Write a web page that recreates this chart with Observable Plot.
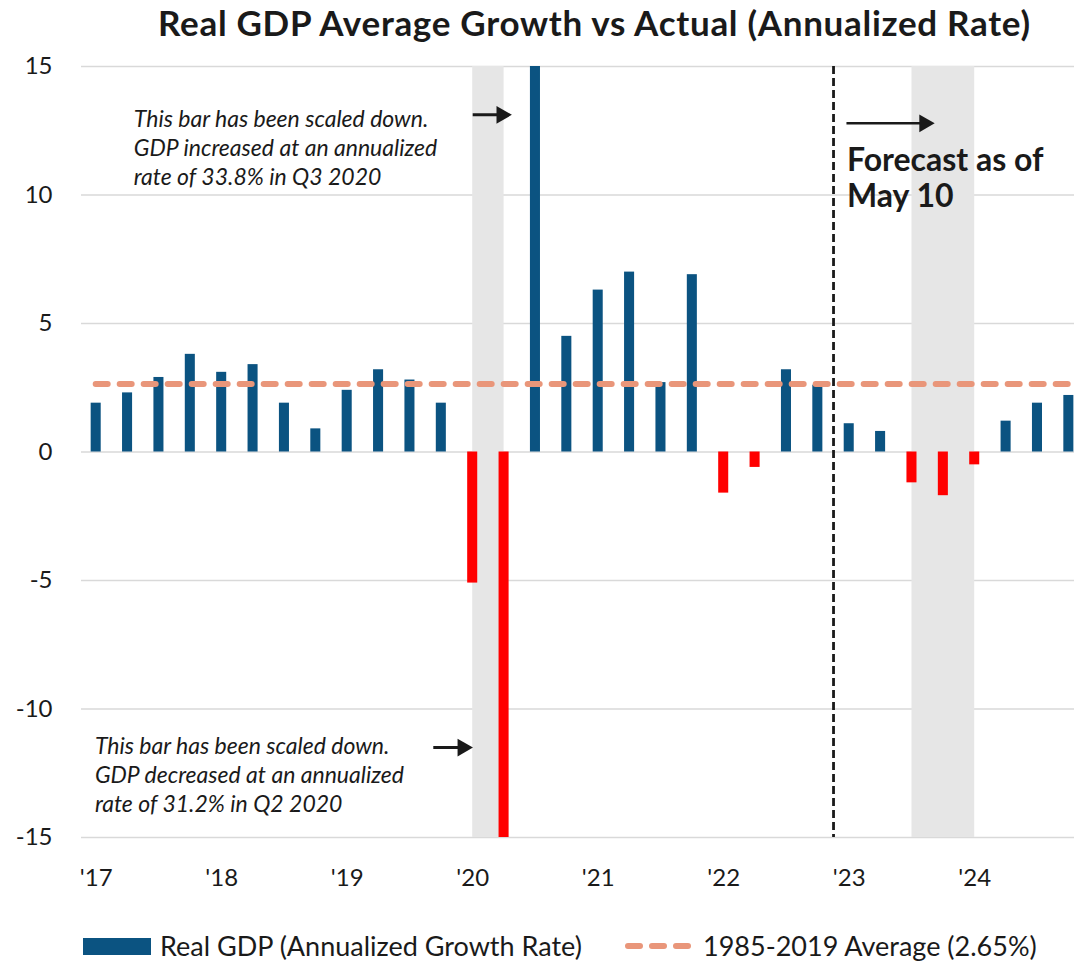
<!DOCTYPE html>
<html><head><meta charset="utf-8">
<script src="https://cdn.jsdelivr.net/npm/d3@7"></script>
<script src="https://cdn.jsdelivr.net/npm/@observablehq/plot@0.6"></script>
<style>
body{margin:0;background:#fff;}
#wrap{position:relative;width:1074px;height:961px;overflow:hidden;font-family:Lato,"Open Sans",sans-serif;color:#1a1a1a;background:#fff;}
#title{position:absolute;left:158px;top:1px;font-weight:700;font-size:35px;letter-spacing:0.7px;line-height:1.2;white-space:nowrap;}
#chart{position:absolute;left:0;top:50px;}
.leg{position:absolute;top:930px;display:flex;align-items:center;font-size:27px;line-height:1.2;white-space:nowrap;}
</style></head>
<body>
<div id="wrap">
  <div id="title">Real GDP Average Growth vs Actual (Annualized Rate)</div>
  <div id="chart"></div>
  <div class="leg" style="left:83px"><span id="sw1" style="display:inline-block;width:68px;height:17px;margin-right:9px"></span><span id="lt1"></span></div>
  <div class="leg" style="left:622px"><svg id="sw2" width="72" height="20" style="margin-right:9px"></svg><span id="lt2"></span></div>
</div>
<script>
// ---- data ----
const periods = [
  "2017 Q1","2017 Q2","2017 Q3","2017 Q4",
  "2018 Q1","2018 Q2","2018 Q3","2018 Q4",
  "2019 Q1","2019 Q2","2019 Q3","2019 Q4",
  "2020 Q1","2020 Q2","2020 Q3","2020 Q4",
  "2021 Q1","2021 Q2","2021 Q3","2021 Q4",
  "2022 Q1","2022 Q2","2022 Q3","2022 Q4",
  "2023 Q1","2023 Q2","2023 Q3","2023 Q4",
  "2024 Q1","2024 Q2","2024 Q3","2024 Q4"
];
const growth = [
  1.9, 2.3, 2.9, 3.8,
  3.1, 3.4, 1.9, 0.9,
  2.4, 3.2, 2.8, 1.9,
  -5.1, -31.2, 33.8, 4.5,
  6.3, 7.0, 2.7, 6.9,
  -1.6, -0.6, 3.2, 2.6,
  1.1, 0.8, -1.2, -1.7,
  -0.5, 1.2, 1.9, 2.2
];
const shadeStart = ["2020 Q1", "2023 Q3"];
const shadeEnd   = ["2020 Q2", "2024 Q1"];
const forecastStart = "2023 Q1";
const averageGrowth = 2.65;
const yTicks = [-15, -10, -5, 0, 5, 10, 15];
const xTickYears = [2017, 2018, 2019, 2020, 2021, 2022, 2023, 2024];
const xTickLabels = ["'17", "'18", "'19", "'20", "'21", "'22", "'23", "'24"];
const seriesNames = ["Real GDP (Annualized Growth Rate)", "1985-2019 Average (2.65%)"];
const noteTexts = [
  "This bar has been scaled down.\nGDP increased at an annualized\nrate of 33.8% in Q3 2020",
  "This bar has been scaled down.\nGDP decreased at an annualized\nrate of 31.2% in Q2 2020"
];
const forecastText = "Forecast as of\nMay 10";
// annotation anchors (data units: year, growth %)
const noteX = [2017.30, 2016.99];
const noteY = [13.45, -10.95];
const arrowX1 = [2020.0, 2019.686, 2022.978];
const arrowX2 = [2020.31, 2020.0, 2023.679];
const arrowY  = [13.12, -11.5, 12.79];
const forecastNoteX = 2022.982;
const forecastNoteY = 11.94;

// ---- build ----
const blue = "#0b5381", red = "#ff0000", salmon = "#e9967a", band = "#e6e6e6", grid = "#d9d9d9", ink = "#1a1a1a";
const toT = s => +s.slice(0, 4) + (+s.slice(-1) - 1) / 4;
const bars = periods.map((p, i) => ({t: toT(p), v: growth[i]}));
const shades = shadeStart.map((s, i) => ({x1: toT(s), x2: toT(shadeEnd[i])}));
const forecastT = toT(forecastStart) - 0.125;
const notes = noteTexts.map((text, i) => ({text, x: noteX[i], y: noteY[i]}));
const arrows = arrowX1.map((x1, i) => ({x1, x2: arrowX2[i], y: arrowY[i], w: i === 2 ? 2.5 : 3}));
const tickLabel = new Map(xTickYears.map((y, i) => [y, xTickLabels[i]]));

const chart = Plot.plot({
  width: 1074,
  height: 851,
  marginTop: 16,
  marginBottom: 64,
  marginLeft: 81,
  marginRight: 0,
  style: {fontFamily: "Lato, 'Open Sans', sans-serif", fontSize: "24px", color: ink, background: "white"},
  x: {type: "linear", domain: [2016.883, 2024.795], axis: null},
  y: {domain: [-15, 15], axis: null},
  marks: [
    Plot.gridY(yTicks, {stroke: grid, strokeOpacity: 1, strokeWidth: 1.6}),
    Plot.rect(shades, {x1: "x1", x2: "x2", fill: band}),
    Plot.rectY(bars, {x1: d => d.t - 0.04, x2: d => d.t + 0.04, y: "v", fill: d => d.v < 0 ? red : blue, clip: true}),
    Plot.ruleY([averageGrowth], {x1: toT(periods[0]), x2: toT(periods[periods.length - 1]), stroke: salmon, strokeWidth: 6, strokeDasharray: "12,12", strokeLinecap: "round"}),
    Plot.ruleX([forecastT], {stroke: ink, strokeWidth: 2.8, strokeDasharray: "8,4"}),
    Plot.link(arrows, {x1: "x1", x2: d => d.x2 - 0.06, y1: "y", y2: "y", stroke: ink, strokeWidth: "w"}),
    Plot.dot(arrows, {x: "x2", y: "y", symbol: "triangle", rotate: 90, r: 6.6, dx: -10, fill: ink, stroke: "none"}),
    Plot.text(notes, {x: "x", y: "y", text: "text", textAnchor: "start", lineAnchor: "top", lineHeight: 1.26, fontSize: 23, fontStyle: "italic", fill: ink}),
    Plot.text([forecastText], {x: forecastNoteX, y: forecastNoteY, text: d => d, textAnchor: "start", lineAnchor: "top", lineHeight: 1.125, fontSize: 32, fontWeight: "bold", fill: ink}),
    Plot.axisY(yTicks, {tickSize: 0, tickPadding: 29, tickFormat: d => String(d), fontSize: 24, fill: ink, label: null}),
    Plot.axisX(xTickYears, {tickSize: 0, tickPadding: 31, tickFormat: d => tickLabel.get(d), fontSize: 24, fill: ink, label: null})
  ]
});
document.getElementById("chart").appendChild(chart);

// legend
document.getElementById("sw1").style.background = blue;
document.getElementById("lt1").textContent = seriesNames[0];
document.getElementById("lt2").textContent = seriesNames[1];
const sw2 = d3.select("#sw2");
sw2.append("line").attr("x1", 6).attr("x2", 66).attr("y1", 10).attr("y2", 10)
  .attr("stroke", salmon).attr("stroke-width", 6).attr("stroke-dasharray", "12,12").attr("stroke-linecap", "round");
</script>
</body></html>
